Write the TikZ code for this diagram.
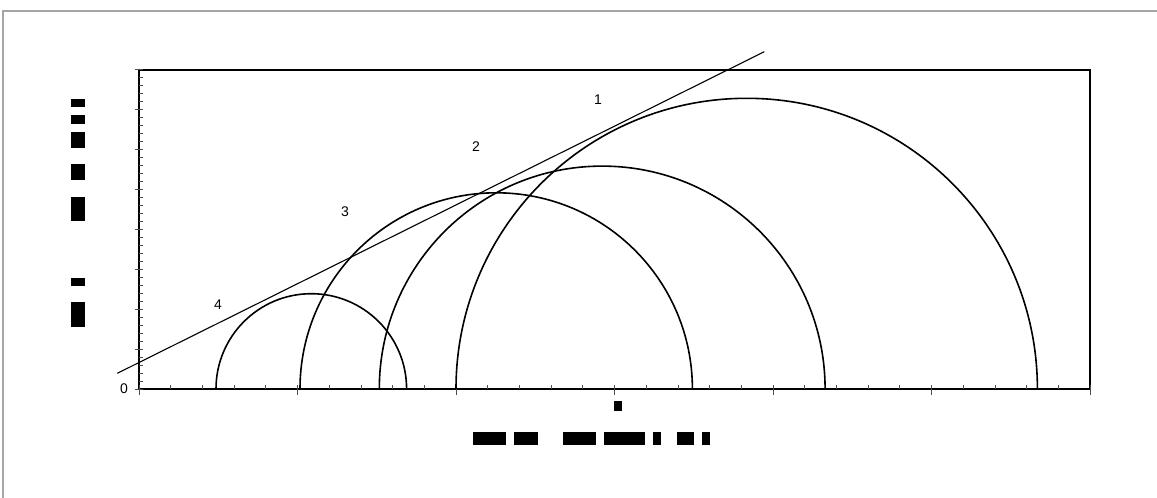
\documentclass[tikz,border=0pt]{standalone}
\usepackage{fontspec}
\setmainfont{Liberation Sans}
\begin{document}
\begin{tikzpicture}[x=1pt, y=-1pt, font=\fontsize{14}{16}\selectfont]
    \useasboundingbox (0,0) rectangle (1157,498);
    % sivi okvir slike
    \draw [gray!70, line width=1.2pt] (3,498) -- (3,11) -- (1157,11);
    % polje grafika
    \draw [line width=1.8pt] (139,389) -- (139,70) -- (1090,70) -- (1090,389) -- cycle;
    % podeoci na osama
    \foreach \i in {0,...,30}{
        \draw [black!70, line width=0.8pt] (139+\i*31.7,389) -- (139+\i*31.7,385);
    }
    \foreach \i in {0,...,6}{
        \draw [black!70, line width=0.9pt] (139+\i*158.5,385) -- (139+\i*158.5,395);
    }
    \foreach \i in {0,...,40}{
        \draw [black!70, line width=0.8pt] (139,389-\i*7.98) -- (143,389-\i*7.98);
    }
    \foreach \i in {0,...,8}{
        \draw [black!70, line width=0.9pt] (135,389-\i*39.9) -- (143,389-\i*39.9);
    }
    % Morovi krugovi
    \draw [line width=1.6pt] (216,389) arc[start angle=180, end angle=0, radius=95.3pt];
    \draw [line width=1.6pt] (300,389) arc[start angle=180, end angle=0, radius=196.2pt];
    \draw [line width=1.6pt] (379.3,389) arc[start angle=180, end angle=0, radius=222.9pt];
    \draw [line width=1.6pt] (456,389) arc[start angle=180, end angle=0, radius=290.7pt];
    % anvelopa
    \draw [line width=1.1pt] (117.3,373.3) -- (764.3,51.7);
    % oznake krugova
    \node (k1) at (598,100) {1};
    \node (k2) at (476,147) {2};
    \node (k3) at (345,212) {3};
    \node (k4) at (218,305) {4};
    \node (nula) at (124,389) {0};
    % natpis y ose
    \foreach \a/\b in {99/106.7, 115/123.7, 132/147.7, 164/179.7, 197/220.7, 278/285.7, 302/327}{
        \fill (71,\a) rectangle (85,\b);
    }
    % natpis x ose
    \fill (614,401) rectangle (622,411.3);
    \foreach \a/\b in {473.3/506, 514/538, 563.3/596, 604/644.7, 653.3/661, 677/694.3, 702/709.7}{
        \fill (\a,432) rectangle (\b,445.3);
    }
\end{tikzpicture}
\end{document}
